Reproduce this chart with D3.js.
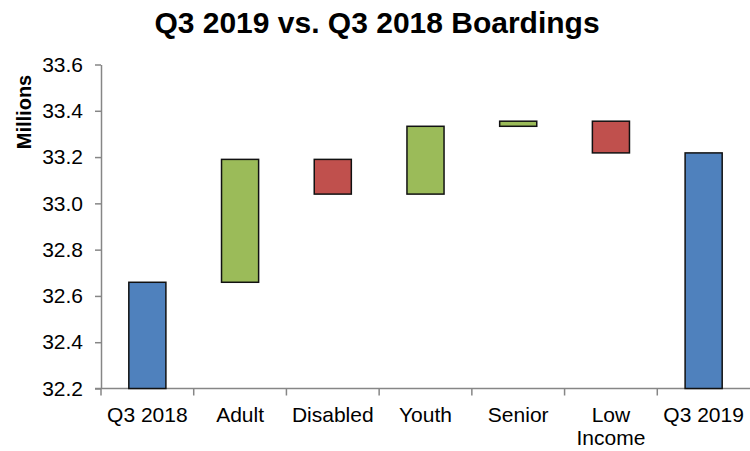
<!DOCTYPE html>
<html>
<head>
<meta charset="utf-8">
<script src="https://cdn.jsdelivr.net/npm/d3@7"></script>
<style>
  html, body { margin: 0; padding: 0; background: #fff; }
  svg { display: block; font-family: "Liberation Sans", Arial, sans-serif; }
</style>
</head>
<body>
<svg id="chart" width="750" height="451"></svg>
<script>
// Waterfall: opening total, per-fare-type changes, closing total (millions of boardings)
const categories = ["Q3 2018", "Adult", "Disabled", "Youth", "Senior", "Low Income", "Q3 2019"];
const startTotal = 32.659;
const changes = [0.531, -0.150, 0.293, 0.022, -0.137];
const yTicks = [32.2, 32.4, 32.6, 32.8, 33.0, 33.2, 33.4, 33.6];

const colors = { total: "#4F81BD", up: "#9BBB59", down: "#C0504D" };

// Build floating segments from the running total
const segments = [];
let running = startTotal;
segments.push({ cat: categories[0], lo: 32.2, hi: startTotal, kind: "total" });
changes.forEach((d, i) => {
  const next = running + d;
  segments.push({ cat: categories[i + 1], lo: Math.min(running, next), hi: Math.max(running, next), kind: d >= 0 ? "up" : "down" });
  running = next;
});
segments.push({ cat: categories[categories.length - 1], lo: 32.2, hi: running, kind: "total" });

const svg = d3.select("#chart");
const margin = { left: 101, right: 0, top: 64.5, bottom: 62.5 };
const W = 750, H = 451;

const x = d3.scaleBand().domain(categories).range([margin.left, W - margin.right]).paddingInner(0.6).paddingOuter(0.3);
const xb = d3.scaleBand().domain(categories).range([margin.left, W - margin.right]);
const y = d3.scaleLinear().domain([32.2, 33.6]).range([H - margin.bottom, margin.top]);

// Title
svg.append("text")
  .attr("x", 377).attr("y", 33)
  .attr("text-anchor", "middle")
  .attr("font-size", 30).attr("font-weight", "bold")
  .attr("fill", "#000")
  .text("Q3 2019 vs. Q3 2018 Boardings");

// Y axis title
svg.append("text")
  .attr("transform", `translate(31,112) rotate(-90)`)
  .attr("text-anchor", "middle")
  .attr("font-size", 20).attr("font-weight", "bold")
  .text("Millions");

const axisColor = "#868686";

// Y axis
const yAxis = svg.append("g")
  .attr("transform", `translate(${margin.left},0)`)
  .call(d3.axisLeft(y).tickValues(yTicks).tickFormat(d3.format(".1f")).tickSize(6).tickSizeOuter(0));
yAxis.select(".domain").attr("stroke", axisColor).attr("stroke-width", 1.5);
yAxis.selectAll(".tick line").attr("stroke", axisColor).attr("stroke-width", 1.5);
yAxis.selectAll(".tick text").attr("font-size", 21).attr("fill", "#000").attr("x", -18)
  .attr("font-family", "Liberation Sans, Arial, sans-serif");

// X axis line and ticks at band boundaries
const xAxisY = y(32.2);
svg.append("line")
  .attr("x1", margin.left - 6).attr("x2", W).attr("y1", xAxisY).attr("y2", xAxisY)
  .attr("stroke", axisColor).attr("stroke-width", 1.5);
svg.selectAll("line.xtick")
  .data(categories)
  .join("line")
  .attr("class", "xtick")
  .attr("x1", d => xb(d)).attr("x2", d => xb(d))
  .attr("y1", xAxisY).attr("y2", xAxisY + 7)
  .attr("stroke", axisColor).attr("stroke-width", 1.5);

// X labels (wrap two-word label)
svg.selectAll("text.xlab")
  .data(categories)
  .join("text")
  .attr("class", "xlab")
  .attr("text-anchor", "middle")
  .attr("font-size", 21)
  .attr("x", d => xb(d) + xb.bandwidth() / 2)
  .attr("y", 422)
  .each(function (d) {
    const words = d === "Low Income" ? ["Low", "Income"] : [d];
    const t = d3.select(this);
    words.forEach((w, i) => {
      t.append("tspan").attr("x", xb(d) + xb.bandwidth() / 2).attr("dy", i === 0 ? 0 : 23).text(w);
    });
  });

// Bars
svg.selectAll("rect.bar")
  .data(segments)
  .join("rect")
  .attr("class", "bar")
  .attr("x", d => x(d.cat))
  .attr("width", x.bandwidth())
  .attr("y", d => y(d.hi))
  .attr("height", d => y(d.lo) - y(d.hi))
  .attr("fill", d => colors[d.kind])
  .attr("stroke", "#111")
  .attr("stroke-width", 1.5);
</script>
</body>
</html>
